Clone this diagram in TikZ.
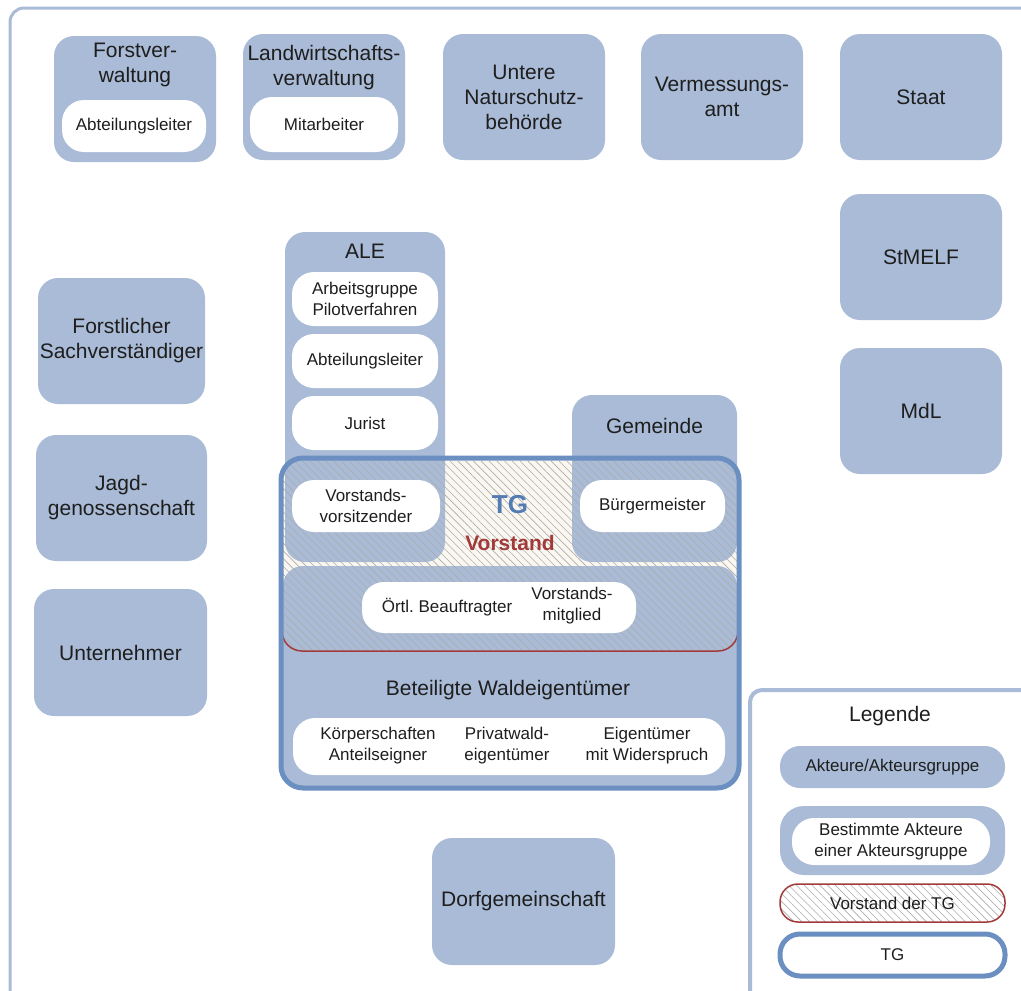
\documentclass[tikz,border=0pt]{standalone}
\usepackage{fontspec}
\setmainfont{Liberation Sans}
\usetikzlibrary{patterns.meta}
\definecolor{lb}{RGB}{169,187,214}
\definecolor{tgb}{RGB}{106,143,192}
\definecolor{tgtxt}{RGB}{84,124,180}
\definecolor{vred}{RGB}{163,58,58}
\definecolor{txt}{RGB}{30,30,30}
\definecolor{cream}{RGB}{250,247,240}
\begin{document}
\begin{tikzpicture}[x=1pt,y=-1pt,
  box/.style={fill=lb, rounded corners=20, inner sep=0pt, text=txt, align=center, font=\fontsize{21}{25}\selectfont},
  wbox/.style={fill=white, rounded corners=22, inner sep=0pt, text=txt, align=center, font=\fontsize{17}{21}\selectfont},
  lbl/.style={text=txt, align=center, inner sep=0pt, font=\fontsize{21}{25}\selectfont},
  slbl/.style={text=txt, align=center, inner sep=0pt, font=\fontsize{17}{21}\selectfont},
  hatch/.style={pattern={Lines[angle=-45,distance=5.5pt,line width=0.6pt]}, pattern color=black!32},
]
\useasboundingbox (0,0) rectangle (1021,991);
\begin{scope}
\clip (0,0) rectangle (1021,991);
% outer frame
\draw[lb, line width=3pt, rounded corners=14] (10,8) rectangle (1045,1015);

% top row
\node[box, minimum width=162, minimum height=126] (forst) at (135,99) {};
\node[lbl] (forstt) at (135,65) {Forstver-\\waltung};
\node[wbox, minimum width=144, minimum height=52] (forstal) at (134,126) {Abteilungsleiter};

\node[box, minimum width=162, minimum height=126] (landw) at (324,97) {};
\node[lbl] (landwt) at (324,68) {Landwirtschafts-\\verwaltung};
\node[wbox, minimum width=148, minimum height=55] (landwm) at (324,124.5) {Mitarbeiter};

\node[box, minimum width=162, minimum height=126] (unb) at (524,97) {Untere\\Naturschutz-\\behörde};
\node[box, minimum width=162, minimum height=126] (verm) at (722,97) {Vermessungs-\\amt};
\node[box, minimum width=162, minimum height=126] (staat) at (921,97) {Staat};
\node[box, minimum width=162, minimum height=126] (stmelf) at (921,257) {StMELF};
\node[box, minimum width=162, minimum height=126] (mdl) at (921,411) {MdL};

% left column
\node[box, minimum width=167, minimum height=126] (fsv) at (121.5,341) {Forstlicher\\Sachverständiger};
\node[box, minimum width=171, minimum height=126] (jagd) at (121.5,498) {Jagd-\\genossenschaft};
\node[box, minimum width=173, minimum height=127] (untern) at (120.5,652.5) {Unternehmer};

\node[box, minimum width=183, minimum height=127] (dorf) at (523.5,901.5) {Dorfgemeinschaft};

% TG interior background
\fill[cream, rounded corners=20] (283,461) rectangle (737,651);

% ALE and Gemeinde columns
\node[box, minimum width=160, minimum height=330] (ale) at (365,397) {};
\node[lbl] (alet) at (365,251) {ALE};
\node[box, minimum width=165, minimum height=167] (gem) at (654.5,478.5) {};
\node[lbl] (gemt) at (654.5,426) {Gemeinde};

% Beteiligte Waldeigentuemer band
\node[box, minimum width=454, minimum height=220] (bwe) at (510,676) {};

% Vorstand hatch
\path[hatch, rounded corners=20] (283,461) rectangle (737,651);

% ALE inner
\node[wbox, minimum width=146, minimum height=54] (ag) at (365,299) {Arbeitsgruppe\\Pilotverfahren};
\node[wbox, minimum width=146, minimum height=54] (aa) at (365,361) {Abteilungsleiter};
\node[wbox, minimum width=146, minimum height=54] (aj) at (365,423) {Jurist};

\node[wbox, minimum width=148, minimum height=52] (vv) at (366,506) {Vorstands-\\vorsitzender};
\node[wbox, minimum width=145, minimum height=52] (bm) at (652.5,506) {Bürgermeister};
\node[wbox, minimum width=274, minimum height=51] (ob) at (499,607.5) {};
\node[slbl] (obt1) at (447,607) {Örtl.\ Beauftragter};
\node[slbl] (obt2) at (572,606) {Vorstands-\\mitglied};

\node[lbl] (bwet) at (508,690) {Beteiligte Waldeigentümer};
\node[wbox, minimum width=432, minimum height=57] (bw) at (509,746.5) {};
\node[slbl] (bw1) at (378,746) {Körperschaften\\Anteilseigner};
\node[slbl] (bw2) at (507,746) {Privatwald-\\eigentümer};
\node[slbl] (bw3) at (647,746) {Eigentümer\\mit Widerspruch};

% borders
\draw[vred, line width=1.5pt, rounded corners=20] (282,458) rectangle (738,651);
\draw[tgb, line width=5pt, rounded corners=22] (281,458) rectangle (739,788);
\node[text=tgtxt, inner sep=0pt, font=\fontsize{26}{30}\selectfont\bfseries] (tg) at (510,505) {TG};
\node[text=vred, inner sep=0pt, font=\fontsize{21}{25}\selectfont\bfseries] (vst) at (510,543) {Vorstand};

% Legend
\draw[lb, line width=4pt, fill=white, rounded corners=12] (750,690) rectangle (1045,1015);
\node[lbl] (leg) at (890,716) {Legende};
\node[box, minimum width=225, minimum height=42, font=\fontsize{17}{21}\selectfont] (l1) at (892.5,767) {Akteure/Akteursgruppe};
\node[box, minimum width=225, minimum height=69, rounded corners=24] (l2) at (892.5,840.5) {};
\node[wbox, minimum width=198, minimum height=47] (l2w) at (891,841.5) {Bestimmte Akteure\\einer Akteursgruppe};
\node[hatch, draw=vred, line width=1.5pt, rounded corners=18, minimum width=225, minimum height=38, inner sep=0pt, text=txt, font=\fontsize{17}{21}\selectfont] (l3) at (892.5,903) {Vorstand der TG};
\node[draw=tgb, fill=white, line width=5pt, rounded corners=20, minimum width=225, minimum height=42, inner sep=0pt, text=txt, font=\fontsize{17}{21}\selectfont] (l4) at (892.5,955) {TG};
\end{scope}
\end{tikzpicture}
\end{document}
